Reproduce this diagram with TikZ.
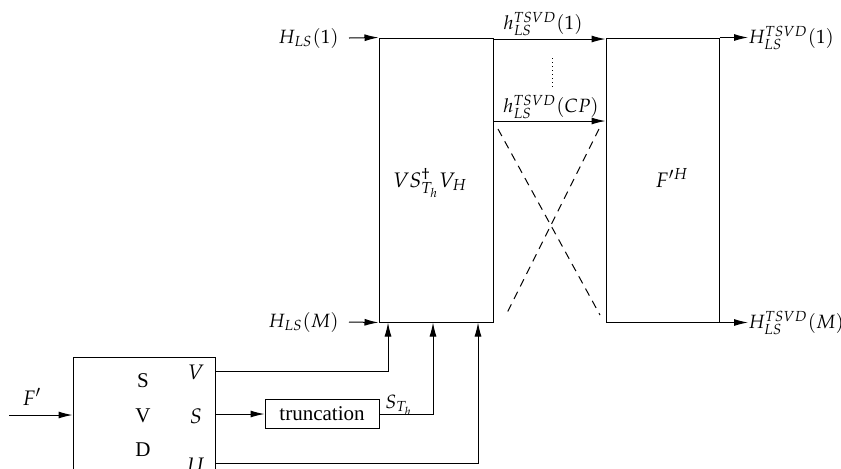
\documentclass[tikz,border=0pt]{standalone}
\usepackage{mathpazo}
\usepackage[no-math]{fontspec}
\setmainfont{Liberation Serif}
\usetikzlibrary{arrows.meta,calc}
\begin{document}
\begin{tikzpicture}[x=0.5pt,y=-0.5pt,font=\fontsize{10.5}{12}\selectfont,
  arr/.style={line width=0.5pt,-{Latex[length=7pt,width=3.5pt]}},
  box/.style={draw,line width=0.5pt,inner sep=0pt},
  lbl/.style={inner sep=0pt},
  slbl/.style={inner sep=0pt,font=\fontsize{9.6}{11}\selectfont},
  dashline/.style={line width=0.5pt,dash pattern=on 4pt off 3pt},
  dotline/.style={line width=0.5pt,dash pattern=on 0.5pt off 1.5pt}]
\useasboundingbox (0,0) rectangle (841,468);
\clip (0,0) rectangle (841,468);
% main blocks
\node[box,minimum width=57pt,minimum height=142pt] (A) at (436,180) {};
\node[box,minimum width=56.5pt,minimum height=142pt] (B) at (662.5,180) {};
\node[box,minimum width=71pt,minimum height=90pt] (svd) at (144,447) {};
\node[box,minimum width=57pt,minimum height=14.5pt] (trunc) at (322,414) {truncation};
\node[lbl] (Alab) at (430,183) {$VS^{\dagger}_{T_h}V_H$};
\node[lbl] (Blab) at (672,178) {$F'^{H}$};
% inputs
\node[slbl,anchor=east] (in1) at (339,38) {$H_{LS}(1)$};
\node[slbl,anchor=east] (inM) at (339,322) {$H_{LS}(M)$};
\draw[arr] ([xshift=5pt]in1.east) -- (A.north west);
\draw[arr] ([xshift=5pt]inM.east) -- (A.south west);
% between blocks
\node[slbl] (h1) at (543,24) {$h^{TSVD}_{LS}(1)$};
\node[slbl] (hcp) at (551,107) {$h^{TSVD}_{LS}(CP)$};
\draw[arr] (A.east |- 0,39) -- (B.west |- 0,39);
\draw[arr] (A.east |- 0,121) -- (B.west |- 0,121);
\coordinate (d1) at (552,58);
\coordinate (d2) at (552,88);
\draw[dotline] (d1) -- (d2);
\coordinate (x1) at (498,129);
\coordinate (x2) at (600,315);
\coordinate (x3) at (599,129);
\coordinate (x4) at (506,315);
\draw[dashline] (x1) -- (x2);
\draw[dashline] (x3) -- (x4);
% outputs
\node[slbl,anchor=west] (out1) at (748,38) {$H^{TSVD}_{LS}(1)$};
\node[slbl,anchor=west] (outM) at (748,323) {$H^{TSVD}_{LS}(M)$};
\draw[arr] (B.north east) -- (out1.west |- B.north east);
\draw[arr] (B.south east) -- (outM.west |- B.south east);
% SVD block
\node[lbl] (s1) at (143,381) {S};
\node[lbl] (v1) at (143,416) {V};
\node[lbl] (dd) at (143,450) {D};
\node[lbl] (Vo) at (196,372) {$V$};
\node[lbl] (So) at (196,416) {$S$};
\node[lbl] (Uo) at (196,465) {$U$};
\node[lbl] (fp) at (32,397) {$F'$};
\coordinate (fin) at (9,415);
\draw[arr] (fin) -- (svd.west |- fin);
\draw[arr] (svd.east |- 0,371) -| (A.south -| 388,0);
\draw[arr] (svd.east |- trunc.west) -- (trunc.west);
\draw[arr] (trunc.east) -| (A.south -| 433,0);
\node[slbl] (st) at (399,405) {$S_{T_h}$};
\draw[arr] (svd.east |- 0,463) -| (A.south -| 478,0);
\end{tikzpicture}
\end{document}
